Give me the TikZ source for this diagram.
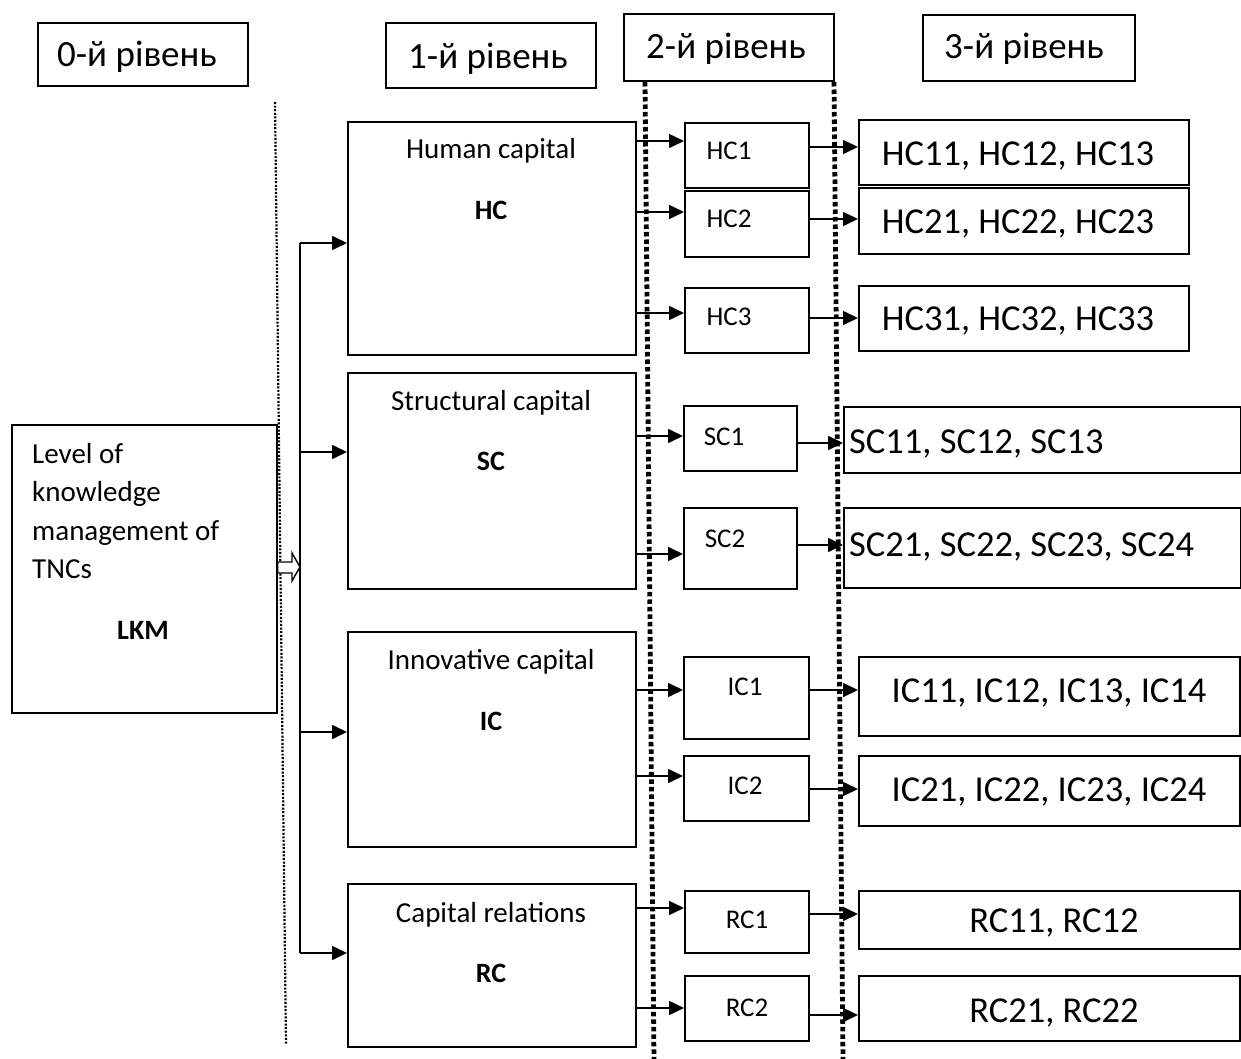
\documentclass[tikz,border=0pt]{standalone}
\usepackage{fontspec}
\setmainfont{Carlito}
\usetikzlibrary{arrows.meta}
\begin{document}
\begin{tikzpicture}[x=1pt,y=-1pt,
  box/.style={draw, line width=1.6pt, inner sep=0pt, anchor=north west},
  arr/.style={line width=1.6pt, -{Triangle[length=15pt,width=14pt]}},
  conn/.style={line width=1.6pt},
  hdr/.style={font=\fontsize{37}{40}\selectfont, anchor=base, inner sep=0pt},
  big/.style={font=\fontsize{36.5}{40}\selectfont, anchor=base, inner sep=0pt},
  mid/.style={font=\fontsize{29}{32}\selectfont, anchor=base, inner sep=0pt},
  midb/.style={font=\fontsize{28}{32}\selectfont\bfseries, anchor=base, inner sep=0pt},
  small/.style={font=\fontsize{27}{30}\selectfont, anchor=base, inner sep=0pt},
  thindot/.style={line width=2.2pt, dash pattern=on 2pt off 1.6pt},
  thickdot/.style={line width=4.8pt, dash pattern=on 4.5pt off 3pt}
]
\useasboundingbox (0,0) rectangle (1241,1059);

% header boxes
\node[box, minimum width=210pt, minimum height=63pt] (h0) at (37,22) {};
\node[box, minimum width=210pt, minimum height=65pt] (h1) at (385,22) {};
\node[box, minimum width=210pt, minimum height=67pt] (h2) at (623,13) {};
\node[box, minimum width=212pt, minimum height=66pt] (h3) at (922,14) {};
\node[hdr] (h0t) at (137,67) {0-й рівень};
\node[hdr] (h1t) at (488,69) {1-й рівень};
\node[hdr] (h2t) at (726,59) {2-й рівень};
\node[hdr] (h3t) at (1024,59) {3-й рівень};

% dotted separators
\coordinate (d0a) at (275,102); \coordinate (d0b) at (286,1045);
\coordinate (d1a) at (645,82);  \coordinate (d1b) at (654,1062);
\coordinate (d2a) at (834,82);  \coordinate (d2b) at (843,1062);
\draw[thindot] (d0a) -- (d0b);
\draw[thickdot] (d1a) -- (d1b);
\draw[thickdot] (d2a) -- (d2b);

% level 0
\node[box, minimum width=265pt, minimum height=288pt] (lkm) at (11,424) {};
\node[mid, anchor=base west] (lkm1) at (32,463) {Level of};
\node[mid, anchor=base west] (lkm2) at (32,501.5) {knowledge};
\node[mid, anchor=base west] (lkm3) at (32,540) {management of};
\node[mid, anchor=base west] (lkm4) at (32,578.5) {TNCs};
\node[midb] (lkmt) at (143,639) {LKM};

% level 1
\node[box, minimum width=288pt, minimum height=233pt] (hc) at (347,121) {};
\node[box, minimum width=288pt, minimum height=216pt] (sc) at (347,372) {};
\node[box, minimum width=288pt, minimum height=215pt] (ic) at (347,631) {};
\node[box, minimum width=288pt, minimum height=163pt] (rc) at (347,883) {};
\node[mid] (hct) at (491,159) {Human capital};
\node[midb] (hcb) at (491,220) {HC};
\node[mid] (sct) at (491,410) {Structural capital};
\node[midb] (scb) at (491,470) {SC};
\node[mid] (ict) at (491,669) {Innovative capital};
\node[midb] (icb) at (491,730) {IC};
\node[mid] (rct) at (491,922) {Capital relations};
\node[midb] (rcb) at (491,982) {RC};

% bus and hollow arrow
\coordinate (busT) at (300,243);
\coordinate (busB) at (300,953);
\draw[conn] (busT) -- (busB);
\draw[line width=1.4pt, fill=white, line join=miter]
  (lkm.east |- 0,562) -- (292,562) -- (292,553) -- (busB |- 0,567)
  -- (292,581) -- (292,573) -- (lkm.east |- 0,573) -- cycle;
\draw[arr] (busT) -- (hc.west |- busT);
\draw[arr] (busT |- 0,452) -- (sc.west |- 0,452);
\draw[arr] (busT |- 0,732) -- (ic.west |- 0,732);
\draw[arr] (busB) -- (rc.west |- busB);

% level 2
\node[box, minimum width=124pt, minimum height=65pt] (hc1) at (684,122) {};
\node[box, minimum width=124pt, minimum height=66pt] (hc2) at (684,190) {};
\node[box, minimum width=124pt, minimum height=65pt] (hc3) at (684,287) {};
\node[box, minimum width=113pt, minimum height=65pt] (sc1) at (683,405) {};
\node[box, minimum width=113pt, minimum height=81pt] (sc2) at (683,507) {};
\node[box, minimum width=125pt, minimum height=82pt] (ic1) at (683,656) {};
\node[box, minimum width=125pt, minimum height=65pt] (ic2) at (683,755) {};
\node[box, minimum width=124pt, minimum height=62pt] (rc1) at (684,890) {};
\node[box, minimum width=124pt, minimum height=65pt] (rc2) at (684,975) {};
\node[small] (hc1t) at (729,160) {HC1};
\node[small] (hc2t) at (729,228) {HC2};
\node[small] (hc3t) at (729,325) {HC3};
\node[small] (sc1t) at (724,445) {SC1};
\node[small] (sc2t) at (725,547) {SC2};
\node[small] (ic1t) at (745,695) {IC1};
\node[small] (ic2t) at (745,794) {IC2};
\node[small] (rc1t) at (747,928) {RC1};
\node[small] (rc2t) at (747,1016) {RC2};

\draw[arr] (hc.east |- 0,141) -- (hc1.west |- 0,141);
\draw[arr] (hc.east |- 0,212) -- (hc2.west |- 0,212);
\draw[arr] (hc.east |- 0,313) -- (hc3.west |- 0,313);
\draw[arr] (sc.east |- 0,436) -- (sc1.west |- 0,436);
\draw[arr] (sc.east |- 0,554) -- (sc2.west |- 0,554);
\draw[arr] (ic.east |- 0,690) -- (ic1.west |- 0,690);
\draw[arr] (ic.east |- 0,776) -- (ic2.west |- 0,776);
\draw[arr] (rc.east |- 0,908) -- (rc1.west |- 0,908);
\draw[arr] (rc.east |- 0,1008) -- (rc2.west |- 0,1008);

% level 3
\node[box, minimum width=330pt, minimum height=65pt] (hc11) at (858,119) {};
\node[box, minimum width=330pt, minimum height=66pt] (hc21) at (858,187) {};
\node[box, minimum width=330pt, minimum height=65pt] (hc31) at (858,285) {};
\node[box, minimum width=397pt, minimum height=66pt] (sc11) at (843,406) {};
\node[box, minimum width=397pt, minimum height=80pt] (sc21) at (843,507) {};
\node[box, minimum width=381pt, minimum height=79pt] (ic11) at (858,656) {};
\node[box, minimum width=381pt, minimum height=70pt] (ic21) at (858,755) {};
\node[box, minimum width=381pt, minimum height=58pt] (rc11) at (858,890) {};
\node[box, minimum width=381pt, minimum height=65pt] (rc21) at (858,975) {};
\node[big] (hc11t) at (1018,166) {HC11, HC12, HC13};
\node[big] (hc21t) at (1018,234) {HC21, HC22, HC23};
\node[big] (hc31t) at (1018,330) {HC31, HC32, HC33};
\node[big, anchor=base west] (sc11t) at (849,453) {SC11, SC12, SC13};
\node[big, anchor=base west] (sc21t) at (849,556) {SC21, SC22, SC23, SC24};
\node[big] (ic11t) at (1049,702) {IC11, IC12, IC13, IC14};
\node[big] (ic21t) at (1049,801) {IC21, IC22, IC23, IC24};
\node[big] (rc11t) at (1054,932) {RC11, RC12};
\node[big] (rc21t) at (1054,1022) {RC21, RC22};

\draw[arr] (hc1.east |- 0,147) -- (hc11.west |- 0,147);
\draw[arr] (hc2.east |- 0,219) -- (hc21.west |- 0,219);
\draw[arr] (hc3.east |- 0,318) -- (hc31.west |- 0,318);
\draw[arr] (sc1.east |- 0,443) -- (sc11.west |- 0,443);
\draw[arr] (sc2.east |- 0,545) -- (sc21.west |- 0,545);
\draw[arr] (ic1.east |- 0,690) -- (ic11.west |- 0,690);
\draw[arr] (ic2.east |- 0,789) -- (ic21.west |- 0,789);
\draw[arr] (rc1.east |- 0,914) -- (rc11.west |- 0,914);
\draw[arr] (rc2.east |- 0,1015) -- (rc21.west |- 0,1015);
\end{tikzpicture}
\end{document}
